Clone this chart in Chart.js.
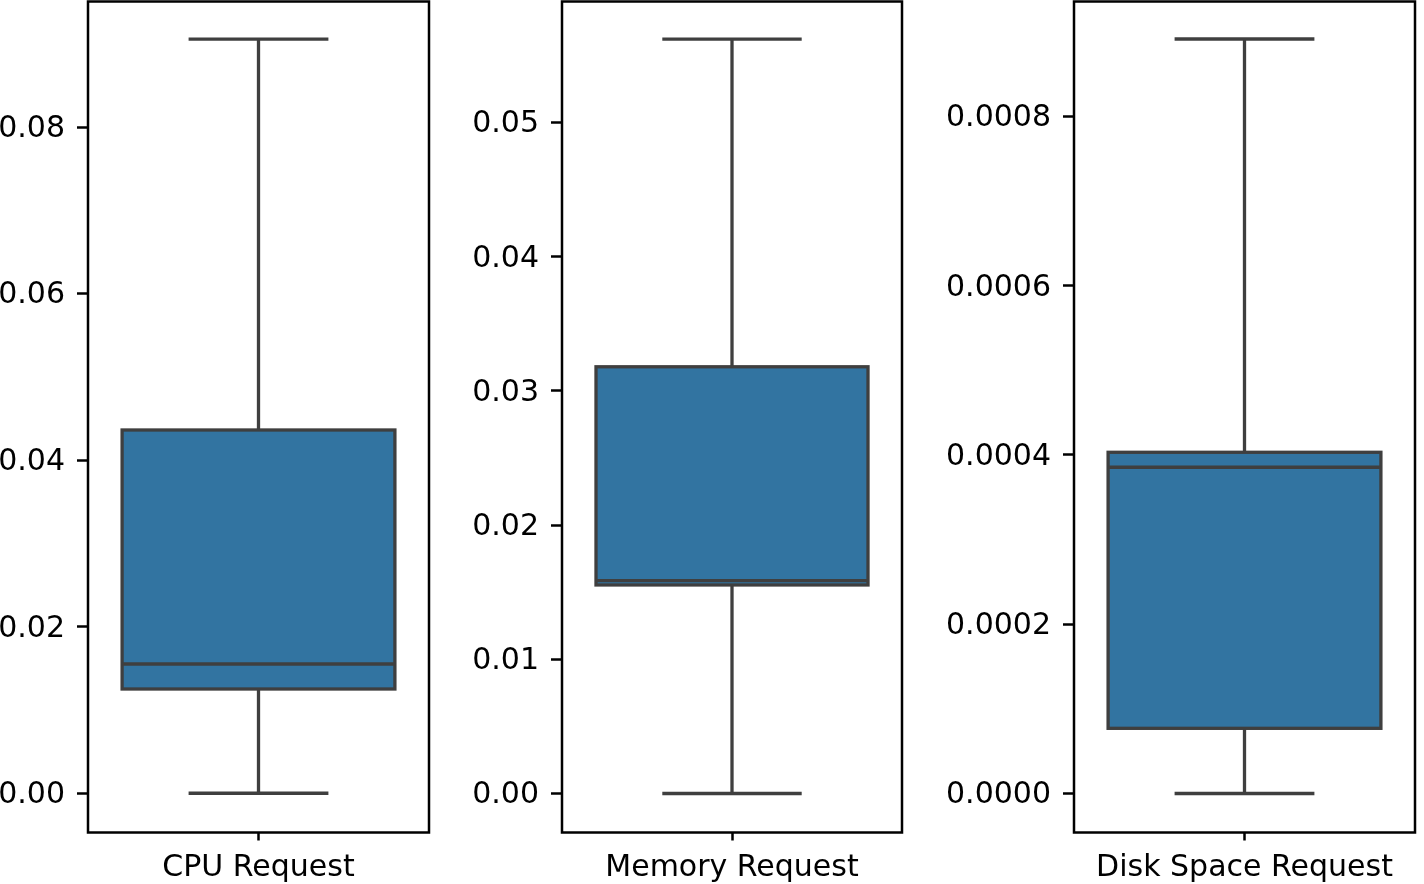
<!DOCTYPE html>
<html>
<head>
<meta charset="utf-8">
<script src="https://cdn.jsdelivr.net/npm/chart.js@4"></script>
<style>
  body { margin: 0; background: #fff; width: 1424px; height: 884px; position: relative; overflow: hidden; }
  canvas { position: absolute; top: 0; }
</style>
</head>
<body>
<canvas id="c0"></canvas>
<canvas id="c1"></canvas>
<canvas id="c2"></canvas>
<script>
// box plot stats
const categories = ['CPU Request', 'Memory Request', 'Disk Space Request'];
const whiskerLow = [0, 0, 0];
const q1 = [0.01252, 0.01554, 0.0000770];
const medians = [0.01552, 0.01587, 0.0003855];
const q3 = [0.04362, 0.0318, 0.0004032];
const whiskerHigh = [0.09056, 0.05622, 0.0008916];

// y ticks per panel
const yTicks = [
  [0, 0.02, 0.04, 0.06, 0.08],
  [0, 0.01, 0.02, 0.03, 0.04, 0.05],
  [0, 0.0002, 0.0004, 0.0006, 0.0008]
];
const tickDecimals = [2, 2, 4];
const yMin = [-0.00471, -0.002906, -0.0000461];
const yMax = [0.09507, 0.05902, 0.0009359];

// where each subplot sits on the page
const panels = [
  { left: 0,   width: 440, plotLeft: 88,   plotRight: 429 },
  { left: 460, width: 455, plotLeft: 562,  plotRight: 902 },
  { left: 930, width: 494, plotLeft: 1074, plotRight: 1415 }
];

const boxFill = '#3274a1';
const lineGray = '#3f3f3f';
const font = { family: 'DejaVu Sans', size: 30 };

const boxPlugin = {
  id: 'boxWhiskers',
  afterDatasetsDraw(chart, args, opts) {
    const i = opts.index;
    const ctx = chart.ctx;
    const xs = chart.scales.x, ys = chart.scales.y;
    const bar = chart.getDatasetMeta(0).data[0];
    const cx = xs.getPixelForValue(0);
    const half = bar.width / 2;
    const cap = xs.width * 0.205;
    const py = v => ys.getPixelForValue(v);

    ctx.save();
    ctx.strokeStyle = lineGray;
    ctx.lineWidth = 3.3;
    const seg = (x1, y1, x2, y2) => { ctx.beginPath(); ctx.moveTo(x1, y1); ctx.lineTo(x2, y2); ctx.stroke(); };
    // whiskers
    seg(cx, py(q3[i]), cx, py(whiskerHigh[i]));
    seg(cx, py(q1[i]), cx, py(whiskerLow[i]));
    // caps
    seg(cx - cap, py(whiskerHigh[i]), cx + cap, py(whiskerHigh[i]));
    seg(cx - cap, py(whiskerLow[i]), cx + cap, py(whiskerLow[i]));
    // box outline
    ctx.strokeRect(cx - half, py(q3[i]), half * 2, py(q1[i]) - py(q3[i]));
    // median
    seg(cx - half, py(medians[i]), cx + half, py(medians[i]));
    ctx.restore();
  },
  afterDraw(chart) {
    const a = chart.chartArea;
    const ctx = chart.ctx;
    ctx.save();
    ctx.strokeStyle = '#000';
    ctx.lineWidth = 2.5;
    ctx.strokeRect(a.left, a.top, a.right - a.left, a.bottom - a.top);
    ctx.restore();
  }
};

categories.forEach((cat, i) => {
  const p = panels[i];
  const canvas = document.getElementById('c' + i);
  canvas.style.left = p.left + 'px';
  canvas.width = p.width;
  canvas.height = 884;

  new Chart(canvas.getContext('2d'), {
    type: 'bar',
    data: {
      labels: [cat],
      datasets: [{
        data: [[q1[i], q3[i]]],
        backgroundColor: boxFill,
        borderWidth: 0,
        categoryPercentage: 1,
        barPercentage: 0.8
      }]
    },
    plugins: [boxPlugin],
    options: {
      responsive: false,
      animation: false,
      devicePixelRatio: 1,
      layout: { padding: { left: 0, right: p.left + p.width - p.plotRight, top: 1.5, bottom: 0 } },
      plugins: {
        legend: { display: false },
        tooltip: { enabled: false },
        boxWhiskers: { index: i }
      },
      scales: {
        x: {
          type: 'category',
          offset: true,
          border: { display: false },
          grid: { offset: false, drawOnChartArea: false, drawTicks: true, tickLength: 8, tickWidth: 2.5, tickColor: '#000' },
          ticks: { color: '#000', font: font, padding: 10, maxRotation: 0 },
          afterFit(scale) {
            scale.height = 884 - 832.5;
            scale.paddingLeft = 0; scale.paddingRight = 0;
          }
        },
        y: {
          min: yMin[i],
          max: yMax[i],
          border: { display: false },
          grid: { drawOnChartArea: false, drawTicks: true, tickLength: 11, tickWidth: 2.5, tickColor: '#000' },
          ticks: {
            color: '#000',
            font: font,
            padding: 12,
            labelOffset: 2,
            callback: v => v.toFixed(tickDecimals[i])
          },
          afterBuildTicks(scale) {
            scale.ticks = yTicks[i].map(v => ({ value: v }));
          },
          afterFit(scale) {
            scale.width = p.plotLeft - p.left;
            scale.paddingTop = 0; scale.paddingBottom = 0;
          }
        }
      }
    }
  });
});
</script>
</body>
</html>
